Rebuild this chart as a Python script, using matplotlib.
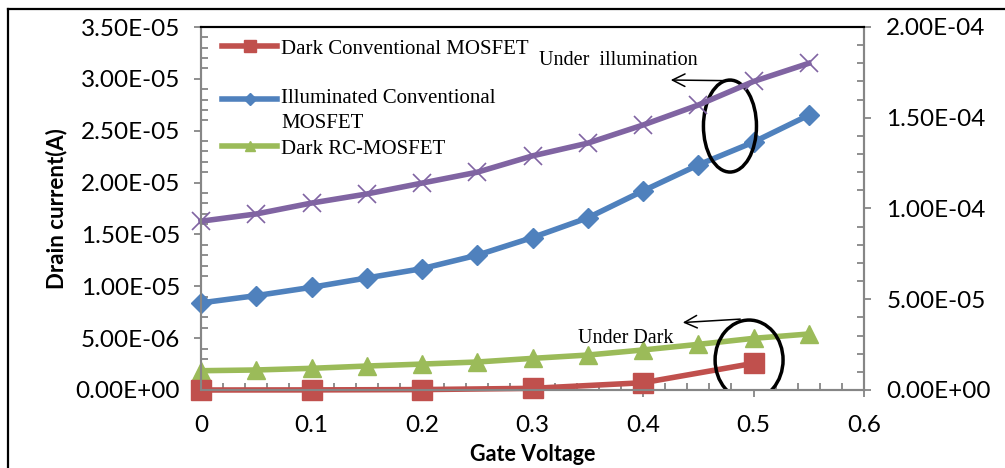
import matplotlib
matplotlib.use("Agg")
import matplotlib.pyplot as plt
from matplotlib.lines import Line2D
from matplotlib.patches import Ellipse
from matplotlib.ticker import MultipleLocator, FuncFormatter

# ---------------- data ----------------
gate_v = [0, 0.05, 0.1, 0.15, 0.2, 0.25, 0.3, 0.35, 0.4, 0.45, 0.5, 0.55]
gate_v_dark_conv = [0, 0.1, 0.2, 0.3, 0.4, 0.5]

dark_conv = [0.0, 0.01e-6, 0.04e-6, 0.16e-6, 0.70e-6, 2.57e-6]
illum_conv = [8.4e-6, 9.1e-6, 9.9e-6, 10.8e-6, 11.7e-6, 13.0e-6,
              14.7e-6, 16.6e-6, 19.2e-6, 21.7e-6, 23.9e-6, 26.5e-6]
dark_rc = [1.86e-6, 1.93e-6, 2.09e-6, 2.31e-6, 2.50e-6, 2.70e-6,
           3.05e-6, 3.37e-6, 3.86e-6, 4.40e-6, 4.98e-6, 5.40e-6]
illum_rc = [9.3e-5, 9.7e-5, 1.03e-4, 1.08e-4, 1.14e-4, 1.20e-4,
            1.29e-4, 1.36e-4, 1.46e-4, 1.57e-4, 1.70e-4, 1.80e-4]

labels = ["Dark Conventional MOSFET",
          "Illuminated Conventional\nMOSFET",
          "Dark RC-MOSFET"]
x_label = "Gate Voltage"
y_label = "Drain current(A)"

RED, BLUE, GREEN, PURPLE = "#C0504D", "#4F81BD", "#9BBB59", "#8064A2"
AXC = "#868686"
TICKFONT = "Lato"
SERIF = "Liberation Serif"

fig = plt.figure(figsize=(10.05, 4.68), dpi=100)
ax = fig.add_axes([0.2, 1 - 390 / 468, (864 - 201) / 1005, (390 - 27) / 468])
ax2 = ax.twinx()

lw = 4
l_green, = ax.plot(gate_v, dark_rc, color=GREEN, lw=lw, marker="^", ms=13,
                   zorder=2, clip_on=False)
l_blue, = ax.plot(gate_v, illum_conv, color=BLUE, lw=lw, marker="D", ms=10.5,
                  zorder=3, clip_on=False)
l_red, = ax.plot(gate_v_dark_conv, dark_conv, color=RED, lw=lw, marker="s",
                 ms=14, zorder=4, clip_on=False)
ax2.plot(gate_v, illum_rc, color=PURPLE, lw=lw, marker="x", ms=13, mew=1.2,
         clip_on=False)

ax.set_xlim(0, 0.6)
ax.set_ylim(0, 3.5e-5)
ax2.set_ylim(0, 2.0e-4)

sci = FuncFormatter(lambda v, p: f"{v:.2E}")
ax.yaxis.set_major_locator(MultipleLocator(5e-6))
ax.yaxis.set_minor_locator(MultipleLocator(1e-6))
ax.yaxis.set_major_formatter(sci)
ax2.yaxis.set_major_locator(MultipleLocator(5e-5))
ax2.yaxis.set_minor_locator(MultipleLocator(1e-5))
ax2.yaxis.set_major_formatter(sci)
ax.xaxis.set_major_locator(MultipleLocator(0.1))
ax.xaxis.set_minor_locator(MultipleLocator(0.02))
ax.xaxis.set_major_formatter(FuncFormatter(lambda v, p: f"{v:g}"))

for a in (ax, ax2):
    for s in a.spines.values():
        s.set_color(AXC)
        s.set_linewidth(1.5)
    a.spines["top"].set_color("black")
    a.tick_params(which="major", direction="out", length=5, width=1.3,
                  color=AXC, labelsize=17.5, pad=10)
    a.tick_params(which="minor", direction="in", length=5, width=1.3,
                  color=AXC)
    for t in a.get_xticklabels() + a.get_yticklabels():
        t.set_fontfamily(TICKFONT)
ax.tick_params(axis="x", pad=13)
ax2.tick_params(axis="y", pad=11)

ax.set_xlabel(x_label, fontfamily=TICKFONT, fontweight="bold", fontsize=15.5,
              labelpad=6)
ax.set_ylabel(y_label, fontfamily=TICKFONT, fontweight="bold", fontsize=16,
              labelpad=6)

# legend (4th series not listed in the original)
spacer = Line2D([], [], color="none")
leg = ax.legend([l_red, spacer, l_blue, l_green],
                [labels[0], " ", labels[1], labels[2]],
                loc="upper left", bbox_to_anchor=(21 / 663, 1 - 12 / 363),
                frameon=False, borderpad=0, borderaxespad=0,
                labelspacing=0.27, handlelength=2.64, handletextpad=0.2,
                markerscale=0.6, prop={"family": SERIF, "size": 15})
for t in leg.get_texts():
    t.set_linespacing(1.43)
# align the handle of the two-line entry with its first line
h = leg.legend_handles[2]
h.set_ydata([y + 9 for y in h.get_ydata()])

# annotations
ax.add_patch(Ellipse((0.4787, 2.545e-5), 0.048, 8.87e-6, fill=False,
                     ec="black", lw=2.5, zorder=6))
ax.add_patch(Ellipse((0.496, 2.89e-6), 0.0615, 7.71e-6, fill=False,
                     ec="black", lw=2.5, zorder=6))
ax.annotate("", xy=(0.4226, 2.989e-5), xytext=(0.4814, 2.982e-5),
            arrowprops=dict(arrowstyle="->,head_length=0.9,head_width=0.45",
                            color="black", lw=1.1))
ax.annotate("", xy=(0.4335, 6.49e-6), xytext=(0.4905, 6.85e-6),
            arrowprops=dict(arrowstyle="->,head_length=0.9,head_width=0.45",
                            color="black", lw=1.1))
ax.text(0.306, 3.18e-5, "Under  illumination", fontfamily=SERIF, fontsize=14.5,
        ha="left", va="center", zorder=7)
ax.text(0.341, 4.92e-6, "Under Dark", fontfamily=SERIF, fontsize=14.5,
        ha="left", va="center", zorder=7)

# outer chart border (top and left visible)
fig.add_artist(Line2D([8 / 1005, 1.0], [1 - 9.3 / 468, 1 - 9.3 / 468],
                      color="black", lw=1.6))
fig.add_artist(Line2D([8 / 1005, 8 / 1005], [0, 1 - 9.3 / 468],
                      color="black", lw=1.6))

fig.savefig("out.png", dpi=100)
